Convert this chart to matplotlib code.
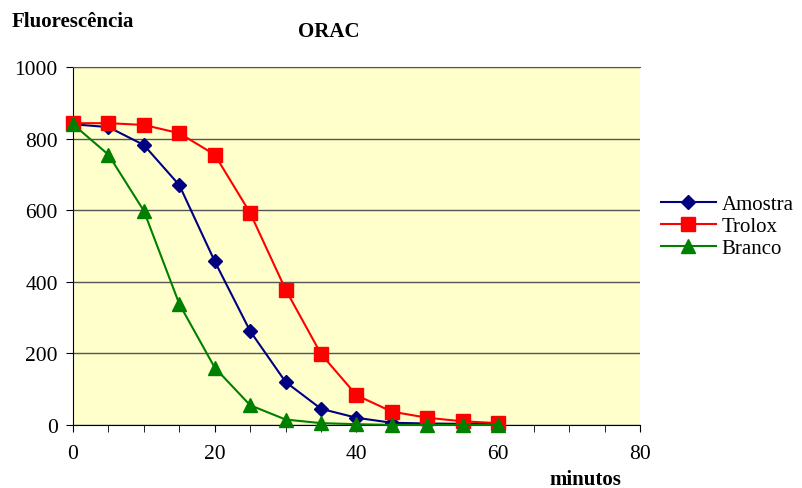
import matplotlib
matplotlib.use("Agg")
import matplotlib.pyplot as plt
from matplotlib.ticker import MultipleLocator

plt.rcParams['font.family'] = ['Liberation Serif', 'DejaVu Serif']

minutos = [0, 5, 10, 15, 20, 25, 30, 35, 40, 45, 50, 55, 60]
amostra = [840, 832, 782, 670, 457, 262, 120, 45, 20, 6, 4, 3, 2]
trolox = [843, 843, 838, 815, 755, 592, 378, 198, 83, 37, 20, 10, 5]
branco = [840, 755, 598, 338, 160, 55, 15, 5, 2, 0, 0, 0, 0]

fig = plt.figure(figsize=(8.02, 4.89), dpi=100)
ax = fig.add_axes([0.091, 0.129, 0.707, 0.732])
ax.set_facecolor('#FFFFCC')

ax.plot(minutos, amostra, color='#000080', marker='D', markersize=7.5, lw=1.5, label='Amostra', clip_on=False, zorder=3)
ax.plot(minutos, trolox, color='#FF0000', marker='s', markersize=10, lw=1.5, label='Trolox', clip_on=False, zorder=3)
ax.plot(minutos, branco, color='#008000', marker='^', markersize=10, lw=1.5, label='Branco', clip_on=False, zorder=4)

ax.set_xlim(0, 80)
ax.set_ylim(0, 1000)
ax.xaxis.set_major_locator(MultipleLocator(20))
ax.xaxis.set_minor_locator(MultipleLocator(5))
ax.yaxis.set_major_locator(MultipleLocator(200))
ax.grid(axis='y', color='#555555', lw=1)
ax.set_axisbelow(True)
ax.spines['right'].set_visible(False)
ax.spines['top'].set_color('#555555')
ax.tick_params(axis='both', labelsize=15.5, direction='out', length=5)
ax.tick_params(axis='x', which='minor', length=5)
ax.tick_params(axis='x', pad=9)
ax.tick_params(axis='y', pad=6)

fig.text(0.015, 0.955, 'Fluorescência', fontsize=15, fontweight='bold', ha='left', va='center')
fig.text(0.41, 0.935, 'ORAC', fontsize=15, fontweight='bold', ha='center', va='center')
fig.text(0.73, 0.018, 'minutos', fontsize=15, fontweight='bold', ha='center', va='center')

ax.legend(loc='center left', bbox_to_anchor=(1.012, 0.555), frameon=False, fontsize=15,
          handlelength=2.6, labelspacing=0.12, handletextpad=0.3, borderaxespad=0.3)

fig.savefig('out.png', dpi=100)
